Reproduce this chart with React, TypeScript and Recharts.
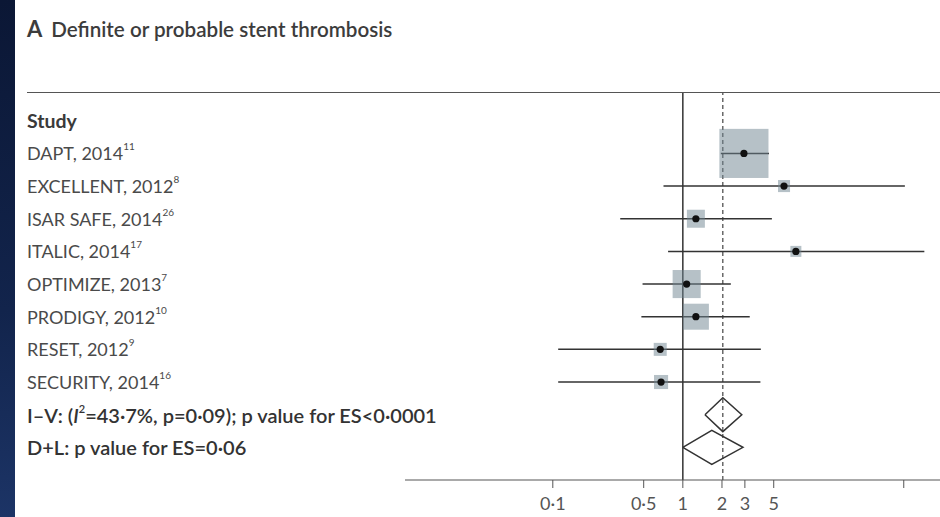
import React from 'react';
import { ScatterChart, Scatter, XAxis, YAxis, ReferenceLine, ErrorBar } from 'recharts';

// study rows (row 0 is the "Study" header)
const studyNames = ['DAPT, 2014', 'EXCELLENT, 2012', 'ISAR SAFE, 2014', 'ITALIC, 2014', 'OPTIMIZE, 2013', 'PRODIGY, 2012', 'RESET, 2012', 'SECURITY, 2014'];
const studyRefs = ['11', '8', '26', '17', '7', '10', '9', '16'];
const estimates = [2.95, 6.0, 1.26, 7.4, 1.07, 1.26, 0.67, 0.68];
const lowerCI = [1.96, 0.71, 0.33, 0.77, 0.49, 0.48, 0.11, 0.11];
const upperCI = [4.6, 51, 4.84, 72, 2.34, 3.27, 3.98, 3.95];
const weights = [49.9, 3.0, 6.7, 2.5, 16.3, 14.0, 3.5, 4.1];

// pooled estimates: I-V (fixed) and D+L (random)
const pooledEst = [2.03, 1.67];
const pooledLow = [1.48, 1.0];
const pooledHigh = [2.84, 2.9];

const xTicks = [0.1, 0.5, 1, 2, 3, 5, 50];
const xTickLabels: Record<number, string> = { 0.1: '0·1', 0.5: '0·5', 1: '1', 2: '2', 3: '3', 5: '5', 50: '' };

const FONT = 'Lato, "Open Sans", sans-serif';
const LEFT = 27;

const studies = studyNames.map((name, i) => ({
  x: estimates[i],
  y: i + 1,
  name,
  weight: weights[i],
  err: [estimates[i] - lowerCI[i], upperCI[i] - estimates[i]],
}));

const diamonds = pooledEst.map((est, i) => {
  const row = studyNames.length + 1 + i;
  return [
    { x: pooledLow[i], y: row },
    { x: est, y: row - 0.52 },
    { x: pooledHigh[i], y: row },
    { x: est, y: row + 0.52 },
    { x: pooledLow[i], y: row },
  ];
});

// translucent so the CI line underneath still shows through the box
const BoxShape = (props: any) => {
  const { cx, cy, payload } = props;
  const s = Math.sqrt(payload.weight) * 6.95;
  return <rect x={cx - s / 2} y={cy - s / 2} width={s} height={s} fill="#6d838f" fillOpacity={0.5} />;
};

const DotShape = (props: any) => <circle cx={props.cx} cy={props.cy} r={3.6} fill="#111" />;

const NoShape = () => <g />;

const RowLabel = (props: any) => {
  const { y, payload } = props;
  const v = payload.value;
  const common = { x: LEFT, y, dominantBaseline: 'central' as const, fontFamily: FONT };
  if (v === 0) {
    return <text {...common} fontSize={19.5} fill="#3a3a3a" fontWeight={700}>Study</text>;
  }
  if (v >= 1 && v <= studyNames.length) {
    return (
      <text {...common} fontSize={18} fill="#4a4a4a">
        {studyNames[v - 1]}
        <tspan dy={-7} fontSize={10}>{studyRefs[v - 1]}</tspan>
      </text>
    );
  }
  if (v === studyNames.length + 1) {
    return (
      <text {...common} fontSize={20} fill="#333" fontWeight={600}>
        {'I–V: ('}
        <tspan fontStyle="italic">I</tspan>
        <tspan dy={-7} fontSize={11}>2</tspan>
        <tspan dy={7}>{'=43·7%, p=0·09); p value for ES<0·0001'}</tspan>
      </text>
    );
  }
  if (v === studyNames.length + 2) {
    return <text {...common} fontSize={20} fill="#333" fontWeight={600}>{'D+L: p value for ES=0·06'}</text>;
  }
  return <g />;
};

const rowTicks = Array.from({ length: studyNames.length + 3 }, (_, i) => i);

export default function App() {
  return (
    <div style={{ position: 'absolute', left: 0, top: 0, width: 940, height: 517, background: '#fff', overflow: 'hidden' }}>
      <div
        style={{
          position: 'absolute', left: 0, top: 0, width: 15, height: 517,
          background: 'linear-gradient(to bottom, #0b1735 0%, #12244c 60%, #1c3466 100%)',
        }}
      />
      <div style={{ position: 'absolute', left: LEFT, top: 15, fontFamily: FONT, color: '#3c3c3c', whiteSpace: 'nowrap' }}>
        <span style={{ fontSize: 22, fontWeight: 700, marginRight: 9 }}>A</span>
        <span style={{ fontSize: 20.6, fontWeight: 600 }}>Definite or probable stent thrombosis</span>
      </div>
      <div style={{ position: 'absolute', left: LEFT, top: 92, width: 940 - LEFT, borderTop: '1.5px solid #555' }} />
      <ScatterChart width={940} height={517} margin={{ top: 93, right: 0, bottom: 0, left: LEFT }}>
        <XAxis
          type="number"
          dataKey="x"
          scale="log"
          domain={[0.0073, 95]}
          allowDataOverflow
          ticks={xTicks}
          interval={0}
          tickFormatter={(v: number) => xTickLabels[v] ?? String(v)}
          height={37}
          tickSize={8}
          tickMargin={9}
          stroke="#555"
          tick={{ fill: '#555', fontSize: 18, fontFamily: FONT }}
        />
        <YAxis
          type="number"
          dataKey="y"
          domain={[-0.85, 11]}
          reversed
          allowDataOverflow
          ticks={rowTicks}
          interval={0}
          width={405 - LEFT}
          axisLine={false}
          tickLine={false}
          tick={<RowLabel />}
        />
        <ReferenceLine x={1} stroke="#333" strokeWidth={1.5} />
        <ReferenceLine x={pooledEst[0]} stroke="#444" strokeWidth={1.2} strokeDasharray="4 3" />
        <Scatter data={studies} shape={<BoxShape />} isAnimationActive={false} />
        <Scatter data={studies} shape={<DotShape />} isAnimationActive={false}>
          <ErrorBar dataKey="err" direction="x" width={0} stroke="#333" strokeWidth={1.5} />
        </Scatter>
        {diamonds.map((d, i) => (
          <Scatter
            key={i}
            data={d}
            line={{ stroke: '#333', strokeWidth: 1.5 }}
            lineType="joint"
            shape={<NoShape />}
            fill="none"
            isAnimationActive={false}
          />
        ))}
      </ScatterChart>
    </div>
  );
}
